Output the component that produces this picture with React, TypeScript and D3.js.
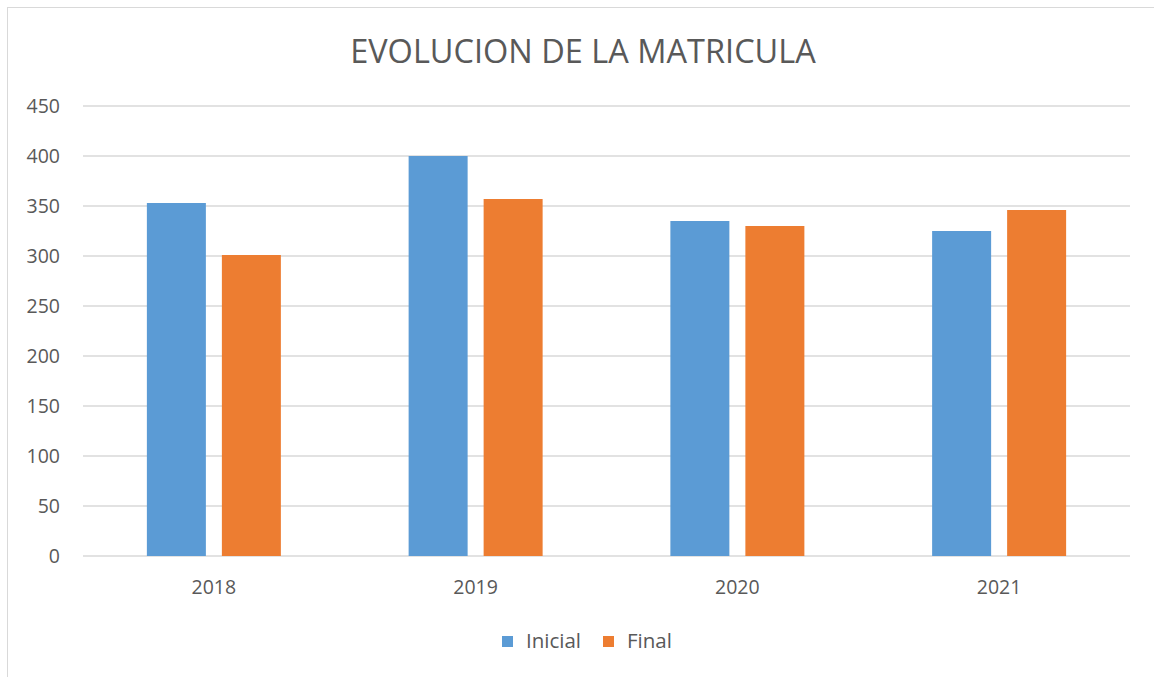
import React from "react";
import * as d3 from "d3";

const years = ["2018", "2019", "2020", "2021"];
const inicial = [353, 400, 335, 325];
const final = [301, 357, 330, 346];
const yTicks = [0, 50, 100, 150, 200, 250, 300, 350, 400, 450];
const seriesNames = ["Inicial", "Final"];
const colors = ["#5b9bd5", "#ed7d31"];

export default function App() {
  const W = 1154, H = 677;
  const left = 83, right = 1130, top = 106, bottom = 556;
  const x = d3.scaleBand().domain(years).range([left, right]);
  const y = d3.scaleLinear().domain([0, 450]).range([bottom, top]);
  const barW = 59;
  const gap = 16;
  const font = "'Open Sans', sans-serif";
  return (
    <svg width={W} height={H} style={{ position: "absolute", left: 0, top: 0 }}>
      <rect x={0} y={0} width={W} height={H} fill="#fff" />
      <rect x={7.5} y={7.5} width={W + 10} height={H + 10} fill="none" stroke="#d9d9d9" strokeWidth={1} />
      <text x={583} y={63} textAnchor="middle" fontFamily={font} fontSize={32.5} fill="#595959">
        EVOLUCION DE LA MATRICULA
      </text>
      {yTicks.map((t) => (
        <g key={t}>
          <line x1={left} x2={right} y1={y(t)} y2={y(t)} stroke="#d9d9d9" strokeWidth={1.5} />
          <text x={60} y={y(t) + 7} textAnchor="end" fontFamily={font} fontSize={19.5} fill="#595959">
            {t}
          </text>
        </g>
      ))}
      {years.map((yr, i) => {
        const c = (x(yr) as number) + x.bandwidth() / 2;
        return (
          <g key={yr}>
            <rect x={c - gap / 2 - barW} y={y(inicial[i])} width={barW} height={y(0) - y(inicial[i])} fill={colors[0]} />
            <rect x={c + gap / 2} y={y(final[i])} width={barW} height={y(0) - y(final[i])} fill={colors[1]} />
            <text x={c} y={594} textAnchor="middle" fontFamily={font} fontSize={19.5} fill="#595959">
              {yr}
            </text>
          </g>
        );
      })}
      {seriesNames.map((s, i) => {
        const lx = i === 0 ? 502 : 603;
        return (
          <g key={s}>
            <rect x={lx} y={636} width={11} height={11} fill={colors[i]} />
            <text x={lx + 24} y={648} fontFamily={font} fontSize={20.5} fill="#595959">
              {s}
            </text>
          </g>
        );
      })}
    </svg>
  );
}
